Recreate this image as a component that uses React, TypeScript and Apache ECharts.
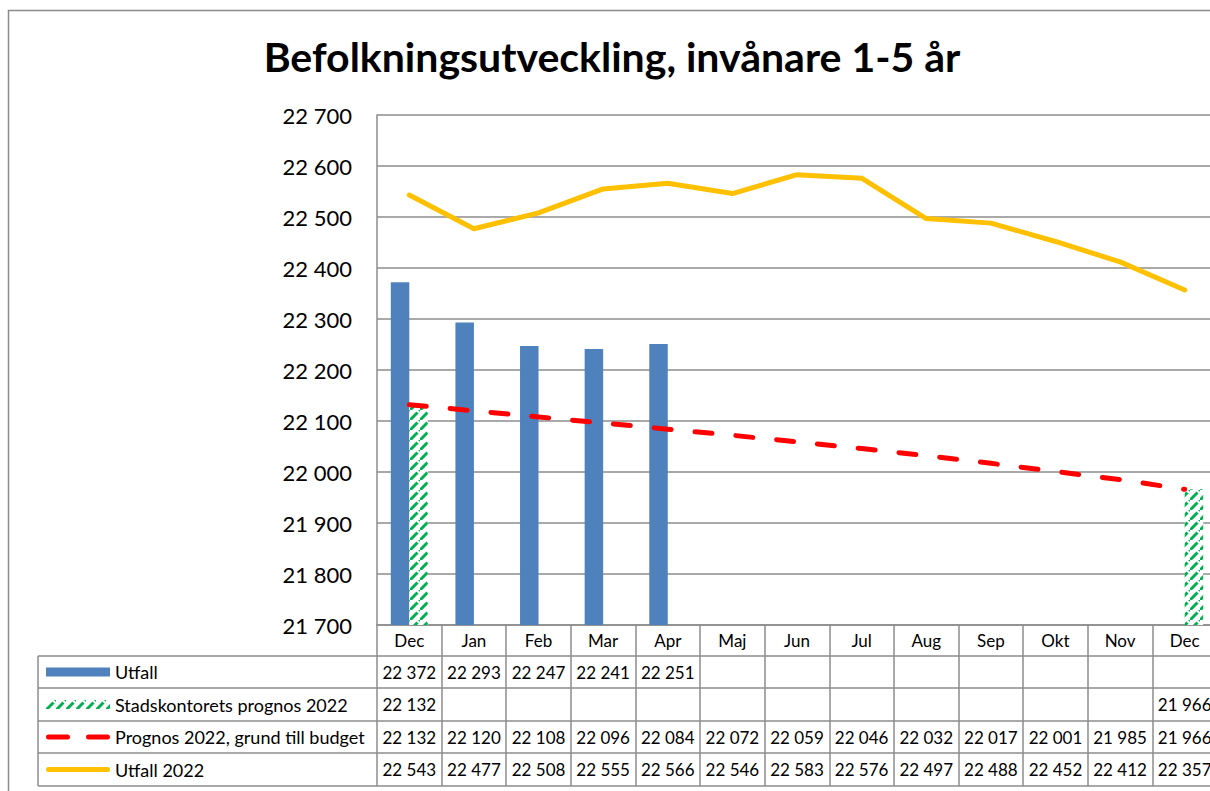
import React, { useEffect, useRef } from "react";
import * as echarts from "echarts";

const categories = ["Dec", "Jan", "Feb", "Mar", "Apr", "Maj", "Jun", "Jul", "Aug", "Sep", "Okt", "Nov", "Dec"];
const utfall: (number | null)[] = [22372, 22293, 22247, 22241, 22251, null, null, null, null, null, null, null, null];
const stadsPrognos: (number | null)[] = [22132, null, null, null, null, null, null, null, null, null, null, null, 21966];
const prognosBudget: (number | null)[] = [22132, 22120, 22108, 22096, 22084, 22072, 22059, 22046, 22032, 22017, 22001, 21985, 21966];
const utfall2022: (number | null)[] = [22543, 22477, 22508, 22555, 22566, 22546, 22583, 22576, 22497, 22488, 22452, 22412, 22357];
const seriesNames = ["Utfall", "Stadskontorets prognos 2022", "Prognos 2022, grund till budget", "Utfall 2022"];
const yMin = 21700;
const yMax = 22700;
const yStep = 100;

const FONT = "Lato";
const GRID = "#8c8c8c";

function fmt(v: number | null) {
  if (v == null) return "";
  return String(v).replace(/\B(?=(\d{3})+(?!\d))/g, " ");
}

function makeHatch() {
  const s = 10;
  const c = document.createElement("canvas");
  c.width = s;
  c.height = s;
  const ctx = c.getContext("2d")!;
  ctx.fillStyle = "#ffffff";
  ctx.fillRect(0, 0, s, s);
  ctx.strokeStyle = "#00B050";
  ctx.lineWidth = 3;
  ctx.beginPath();
  ctx.moveTo(-1, s + 1);
  ctx.lineTo(7.5, 2.5);
  ctx.stroke();
  ctx.beginPath();
  ctx.moveTo(9, 1);
  ctx.lineTo(s + 1, -1);
  ctx.stroke();
  return c;
}

const redDashIcon =
  "path://M2.5,0 L21.5,0 A2.5,2.5 0 0 1 21.5,5 L2.5,5 A2.5,2.5 0 0 1 2.5,0 Z M42.5,0 L61.5,0 A2.5,2.5 0 0 1 61.5,5 L42.5,5 A2.5,2.5 0 0 1 42.5,0 Z";
const solidLineIcon = "path://M2.5,0 L61.5,0 A2.5,2.5 0 0 1 61.5,5 L2.5,5 A2.5,2.5 0 0 1 2.5,0 Z";

export default function App() {
  const ref = useRef<HTMLDivElement>(null);
  useEffect(() => {
    document.body.style.margin = "0";
    const chart = echarts.init(ref.current!, null, { renderer: "svg" });
    const hatch = { image: makeHatch(), repeat: "repeat" } as any;
    const rowTops = [656, 688, 721, 753, 786];
    const legendTops = rowTops.slice(0, 4).map((t, i) => (t + rowTops[i + 1]) / 2);
    const icons = ["rect", "rect", redDashIcon, solidLineIcon];
    const option: any = {
      animation: false,
      backgroundColor: "#ffffff",
      title: {
        text: "Befolkningsutveckling, invånare 1-5 år",
        left: 612,
        textAlign: "center",
        top: 36,
        padding: 0,
        textStyle: { fontFamily: FONT, fontWeight: "bold", fontSize: 41, color: "#000" },
      },
      legend: seriesNames.map((n, i) => ({
        data: [{ name: n, icon: icons[i] }],
        left: 46,
        top: legendTops[i] - 10,
        padding: 0,
        itemWidth: 64,
        itemHeight: i < 2 ? 9 : 5,
        itemGap: 0,
        selectedMode: false,
        textStyle: { fontFamily: FONT, fontSize: 18, color: "#000", lineHeight: 20 },
      })),
      grid: { left: 377, top: 115, bottom: 166, width: 840, containLabel: false, outerBoundsMode: "none" },
      xAxis: {
        type: "category",
        data: categories,
        boundaryGap: true,
        axisLine: { show: true, lineStyle: { color: GRID, width: 1.5 } },
        axisTick: { show: true, length: 161, lineStyle: { color: GRID, width: 1.5 } },
        axisLabel: { fontFamily: FONT, fontSize: 17, color: "#000", margin: 7, interval: 0 },
        splitLine: { show: false },
      },
      yAxis: {
        type: "value",
        min: yMin,
        max: yMax,
        interval: yStep,
        axisLine: { show: true, lineStyle: { color: GRID, width: 1.5 } },
        axisTick: { show: false },
        splitLine: { show: true, lineStyle: { color: GRID, width: 1.5 } },
        axisLabel: { fontFamily: FONT, fontSize: 22, color: "#000", margin: 25, formatter: (v: number) => fmt(v) },
      },
      series: [
        {
          name: seriesNames[0],
          type: "bar",
          data: utfall,
          barWidth: 18.5,
          barGap: "0%",
          itemStyle: { color: "#4F81BD" },
          z: 2,
        },
        {
          name: seriesNames[1],
          type: "bar",
          data: stadsPrognos,
          barWidth: 18.5,
          barGap: "0%",
          itemStyle: { color: hatch },
          z: 2,
        },
        {
          name: seriesNames[2],
          type: "line",
          data: prognosBudget,
          symbol: "none",
          showSymbol: false,
          itemStyle: { color: "#FF0000" },
          lineStyle: { color: "#FF0000", width: 5, type: [17, 24], cap: "round" },
          z: 3,
        },
        {
          name: seriesNames[3],
          type: "line",
          data: utfall2022,
          symbol: "none",
          showSymbol: false,
          itemStyle: { color: "#FFC000" },
          lineStyle: { color: "#FFC000", width: 5, cap: "round", join: "round" },
          z: 4,
        },
      ],
    };
    chart.setOption(option);

    const rows = [utfall, stadsPrognos, prognosBudget, utfall2022];
    const graphics: any[] = [];
    graphics.push({
      type: "rect",
      shape: { x: 8.5, y: 10.5, width: 1240, height: 820 },
      style: { fill: "none", stroke: GRID, lineWidth: 1.5 },
      silent: true,
      z: 0,
    });
    rowTops.forEach((y) => {
      graphics.push({
        type: "line",
        shape: { x1: 38, y1: y, x2: 1260, y2: y },
        style: { stroke: GRID, lineWidth: 1.5 },
        silent: true,
      });
    });
    graphics.push({
      type: "line",
      shape: { x1: 38, y1: rowTops[0], x2: 38, y2: rowTops[4] },
      style: { stroke: GRID, lineWidth: 1.5 },
      silent: true,
    });
    rows.forEach((row, r) => {
      row.forEach((v, i) => {
        if (v == null) return;
        const px = chart.convertToPixel({ xAxisIndex: 0 }, i) as number;
        graphics.push({
          type: "text",
          x: px,
          y: legendTops[r],
          style: {
            text: fmt(v),
            fontFamily: FONT,
            fontSize: 17,
            fill: "#000",
            align: "center",
            verticalAlign: "middle",
          },
          silent: true,
        });
      });
    });
    chart.setOption({ graphic: graphics });
    return () => chart.dispose();
  }, []);
  return <div ref={ref} style={{ width: 1210, height: 791 }} />;
}
